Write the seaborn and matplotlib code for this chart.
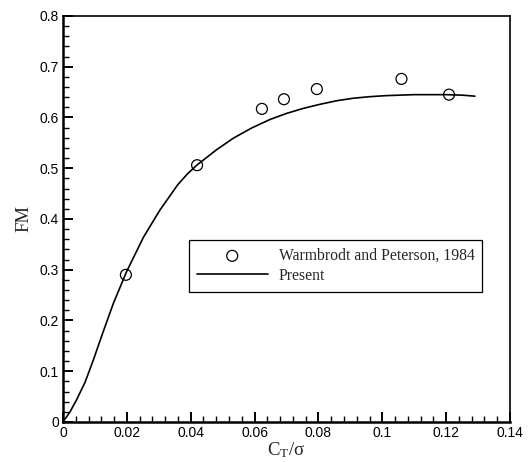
import matplotlib
matplotlib.use("Agg")
import matplotlib.pyplot as plt
import seaborn as sns
import pandas as pd

# Figure of merit versus blade loading
exp_ct = [0.0197, 0.0420, 0.0623, 0.0692, 0.0795, 0.1060, 0.1209]
exp_fm = [0.290, 0.506, 0.617, 0.636, 0.656, 0.676, 0.645]

sim_ct = [0.0, 0.0022, 0.0042, 0.0069, 0.0095, 0.0126, 0.0158, 0.0199,
          0.0252, 0.0304, 0.0360, 0.0390, 0.0419, 0.0480, 0.0533, 0.0590,
          0.0648, 0.0700, 0.0753, 0.0805, 0.0857, 0.0910, 0.0961, 0.1010,
          0.1055, 0.1100, 0.1150, 0.1200, 0.1250, 0.1290]
sim_fm = [0.0, 0.020, 0.043, 0.078, 0.122, 0.178, 0.234, 0.296,
          0.364, 0.418, 0.468, 0.489, 0.506, 0.536, 0.559, 0.579,
          0.596, 0.608, 0.618, 0.626, 0.633, 0.638, 0.641, 0.643,
          0.644, 0.645, 0.645, 0.645, 0.644, 0.642]

x_ticks = [0, 0.02, 0.04, 0.06, 0.08, 0.10, 0.12, 0.14]
x_tick_labels = ["0", "0.02", "0.04", "0.06", "0.08", "0.1", "0.12", "0.14"]
y_ticks = [0, 0.1, 0.2, 0.3, 0.4, 0.5, 0.6, 0.7, 0.8]
y_tick_labels = ["0", "0.1", "0.2", "0.3", "0.4", "0.5", "0.6", "0.7", "0.8"]

exp_label = "Warmbrodt and Peterson, 1984"
sim_label = "Present"

sns.set_theme(style="ticks")
plt.rcParams["font.family"] = ["Liberation Sans", "DejaVu Sans"]
plt.rcParams["mathtext.fontset"] = "custom"
plt.rcParams["mathtext.rm"] = "Liberation Serif"
plt.rcParams["mathtext.it"] = "Liberation Serif:italic"
plt.rcParams["mathtext.default"] = "regular"

exp_df = pd.DataFrame({"ct": exp_ct, "fm": exp_fm})
sim_df = pd.DataFrame({"ct": sim_ct, "fm": sim_fm})

fig = plt.figure(figsize=(5.31, 4.62), dpi=100)
ax = fig.add_axes([0.1186, 0.0866, 0.8419, 0.8788])

sns.scatterplot(data=exp_df, x="ct", y="fm", ax=ax, marker="o", s=62,
                facecolor="none", edgecolor="black", linewidth=0.9,
                label=exp_label, zorder=3)
sns.lineplot(data=sim_df, x="ct", y="fm", ax=ax, color="black",
             linewidth=1.2, label=sim_label, zorder=2)

ax.set_xlim(0, 0.14)
ax.set_ylim(0, 0.8)
ax.set_xticks(x_ticks)
ax.set_xticklabels(x_tick_labels)
ax.set_xticks([i * 0.004 for i in range(36)], minor=True)
ax.set_yticks(y_ticks)
ax.set_yticklabels(y_tick_labels)
ax.set_yticks([i * 0.02 for i in range(41)], minor=True)

ax.tick_params(which="major", direction="in", length=7, width=1.4,
               labelsize=10, pad=3, colors="black")
ax.tick_params(which="minor", direction="in", length=4, width=1.0, colors="black")
ax.tick_params(top=False, right=False, which="both")

for side in ["left", "bottom"]:
    ax.spines[side].set_linewidth(1.8)
for side in ["top", "right"]:
    ax.spines[side].set_visible(True)
    ax.spines[side].set_linewidth(1.2)
for s in ax.spines.values():
    s.set_color("black")

ax.set_xlabel("C$_{T}$/σ", family="Liberation Serif", fontsize=13.5, labelpad=0)
ax.set_ylabel("FM", family="Liberation Serif", fontsize=13.5, labelpad=5)

leg = ax.legend(loc="upper left", bbox_to_anchor=(0.282, 0.448),
                borderaxespad=0, frameon=True, fancybox=False,
                edgecolor="black", framealpha=1,
                prop={"family": "Liberation Serif", "size": 11.3},
                handlelength=4.5, handletextpad=0.7, borderpad=0.5,
                labelspacing=0.25)
leg.get_frame().set_linewidth(0.9)

fig.savefig("out.png", dpi=100)
